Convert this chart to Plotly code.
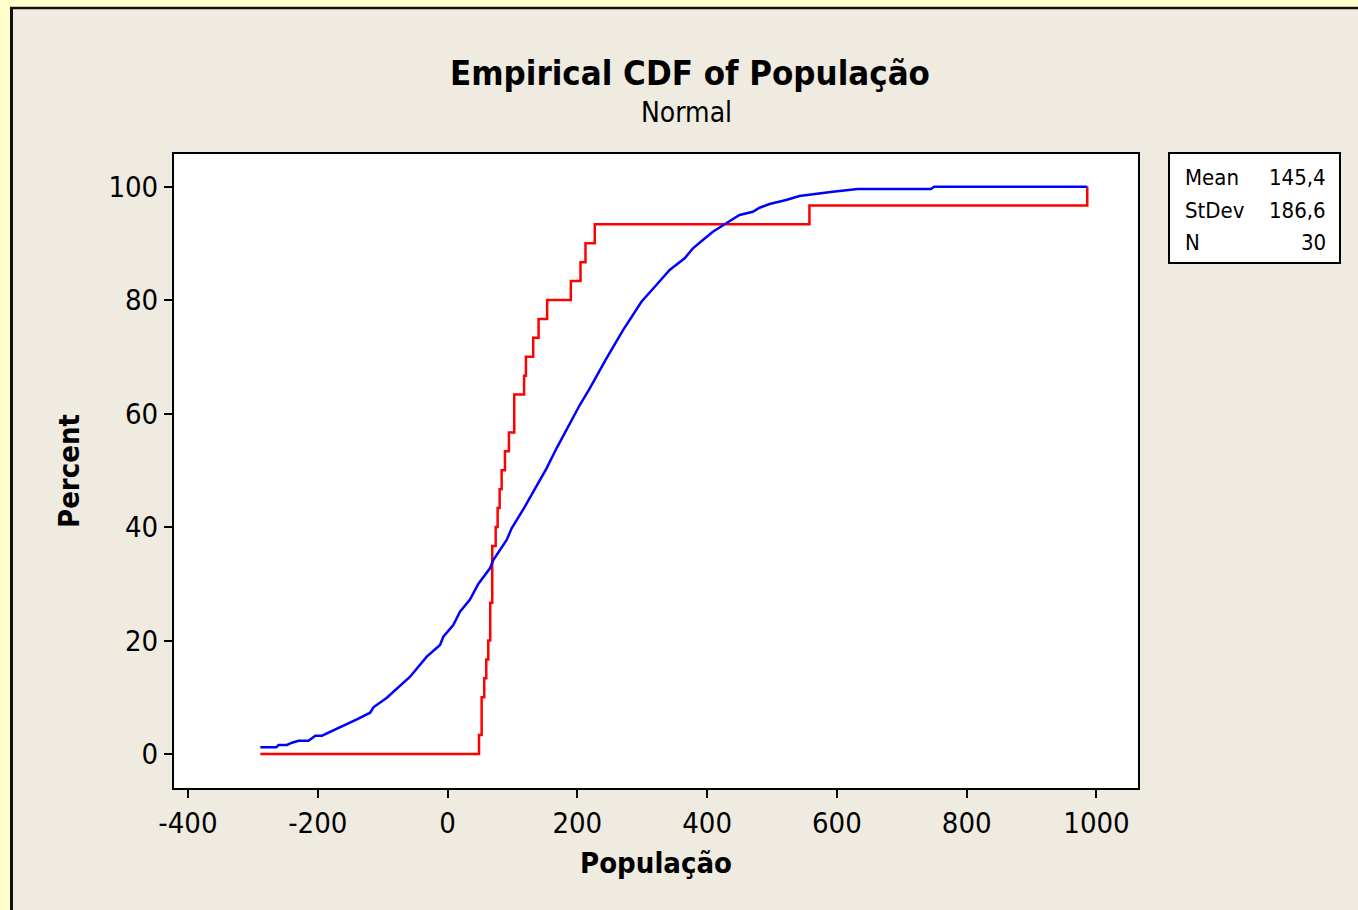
import plotly.graph_objects as go

# ---------------- data ----------------
# Empirical CDF (red step line): x where each step occurs, percent after the step
ecdf_x = [-288.5, 48.5, 52.6, 56.6, 59.7, 62.8, 65.8, 68.9, 74.2, 77.2, 80.3, 83.4,
          88.5, 94.6, 102.8, 118.0, 120.8, 132.0, 140.3, 153.5, 190.0, 204.9, 212.6,
          226.9, 557.7, 985.8]
ecdf_pct = [0, 3.33, 10, 13.33, 16.67, 20, 26.67, 36.67, 40, 43.33, 46.67, 50,
            53.33, 56.67, 63.33, 66.67, 70, 73.33, 76.67, 80, 83.33, 86.67, 90,
            93.33, 96.67, 100]

# Fitted normal CDF (blue line)
fit_x = [-288.5, -263.8, -260.3, -247.4, -239.7, -229.5, -214.2, -203.8, -193.5, -183.4,
         -162.8, -139.7, -119.2, -114.2, -93.5, -68.0, -57.7, -32.0, -11.5, -6.5,
         8.9, 19.2, 34.6, 47.4, 65.4, 70.5, 91.1, 98.8, 119.2, 142.3,
         152.6, 168.0, 183.4, 193.5, 203.8, 219.2, 244.9, 270.5, 298.8, 321.8,
         342.3, 365.4, 378.2, 393.5, 408.9, 429.5, 450.0, 470.5, 480.8, 496.2,
         521.8, 542.3, 562.8, 593.5, 632.0, 744.9, 750.0, 985.8]
fit_pct = [1.18, 1.18, 1.59, 1.59, 1.99, 2.34, 2.34, 3.22, 3.22, 3.75,
           4.93, 6.11, 7.28, 8.23, 9.92, 12.46, 13.62, 17.15, 19.21, 20.67,
           22.73, 25.07, 27.2, 29.96, 32.72, 34.19, 37.71, 39.77, 43.58, 48.28,
           50.34, 53.87, 57.09, 59.44, 61.50, 64.44, 69.73, 74.71, 79.70, 82.64,
           85.29, 87.35, 89.11, 90.57, 92.04, 93.52, 94.98, 95.56, 96.26, 96.92,
           97.62, 98.33, 98.68, 99.08, 99.56, 99.56, 99.96, 99.96]

x_ticks = [-400, -200, 0, 200, 400, 600, 800, 1000]
y_ticks = [0, 20, 40, 60, 80, 100]

stat_labels = ["Mean", "StDev", "N"]
stat_values = ["145,4", "186,6", "30"]

title_text = "Empirical CDF of População"
subtitle_text = "Normal"

# ---------------- figure ----------------
FONT = "DejaVu Sans Condensed, DejaVu Sans, sans-serif"
W, H = 1358, 910
L, R, T, B = 174, 220, 154, 122
PW, PH = W - L - R, H - T - B


def px(xp):
    return (xp - L) / PW


def py(yp):
    return (H - B - yp) / PH


fig = go.Figure()
fig.add_trace(go.Scatter(x=ecdf_x, y=ecdf_pct, mode="lines", line_shape="hv",
                         line=dict(color="#FF0000", width=2.5), showlegend=False,
                         hoverinfo="skip"))
fig.add_trace(go.Scatter(x=fit_x, y=fit_pct, mode="lines",
                         line=dict(color="#0000FF", width=2.5), showlegend=False,
                         hoverinfo="skip"))

axis_common = dict(showline=True, linewidth=2, linecolor="black", mirror=True,
                   ticks="outside", ticklen=8, tickwidth=2, tickcolor="black",
                   showgrid=False, zeroline=False,
                   tickfont=dict(family=FONT, size=29, color="black"))

fig.update_xaxes(range=[-421.5, 1064.0], tickvals=x_ticks,
                 ticktext=[str(v) for v in x_ticks],
                 title=dict(text="<b>População</b>", standoff=14,
                            font=dict(family=FONT, size=29, color="black")),
                 **axis_common)
fig.update_yaxes(range=[-5.99, 105.73], tickvals=y_ticks,
                 ticktext=[str(v) for v in y_ticks],
                 title=dict(text="<b>Percent</b>", standoff=20,
                            font=dict(family=FONT, size=29, color="black")),
                 **axis_common)

shapes = [
    # yellow outer strips and black frame lines
    dict(type="rect", xref="paper", yref="paper", x0=px(0), x1=px(10.5), y0=py(915), y1=py(0),
         fillcolor="#FFFFCC", line=dict(width=0), layer="below"),
    dict(type="rect", xref="paper", yref="paper", x0=px(0), x1=px(1360), y0=py(7), y1=py(0),
         fillcolor="#FFFFCC", line=dict(width=0), layer="below"),
    dict(type="line", xref="paper", yref="paper", x0=px(11.5), x1=px(11.5), y0=py(915), y1=py(7.5),
         line=dict(color="#111111", width=3)),
    dict(type="line", xref="paper", yref="paper", x0=px(10), x1=px(1360), y0=py(8), y1=py(8),
         line=dict(color="#111111", width=2.5)),
    # statistics box
    dict(type="rect", xref="paper", yref="paper", x0=px(1169), x1=px(1340), y0=py(263), y1=py(153),
         fillcolor="white", line=dict(color="black", width=2)),
]

annotations = [
    dict(text="<b>" + title_text + "</b>", x=px(690), y=py(73), xref="paper", yref="paper",
         xanchor="center", yanchor="middle", showarrow=False,
         font=dict(family=FONT, size=34.5, color="black")),
    dict(text=subtitle_text, x=px(686), y=py(113), xref="paper", yref="paper",
         xanchor="center", yanchor="middle", showarrow=False,
         font=dict(family=FONT, size=28, color="black")),
]
for lab, val, yp in zip(stat_labels, stat_values, [177, 210, 242]):
    annotations.append(dict(text=lab, x=px(1183), y=py(yp), xref="paper", yref="paper",
                            xanchor="left", yanchor="middle", showarrow=False,
                            font=dict(family=FONT, size=22, color="black")))
    annotations.append(dict(text=val, x=px(1328), y=py(yp), xref="paper", yref="paper",
                            xanchor="right", yanchor="middle", showarrow=False,
                            font=dict(family=FONT, size=22, color="black")))

fig.update_layout(width=W, height=H, margin=dict(l=L, r=R, t=T, b=B, pad=0),
                  paper_bgcolor="#EFEBE1", plot_bgcolor="white",
                  shapes=shapes, annotations=annotations, showlegend=False,
                  font=dict(family=FONT, color="black"))

fig.write_html("out.html")
